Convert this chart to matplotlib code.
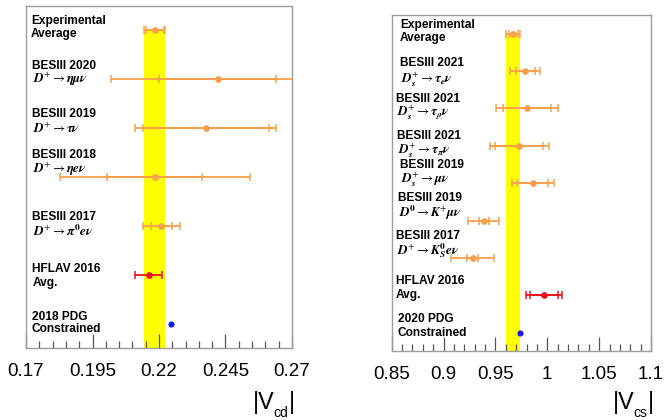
import matplotlib
matplotlib.use("Agg")
import matplotlib.pyplot as plt
import matplotlib.transforms as mtransforms
from matplotlib.ticker import MultipleLocator, FixedLocator, FixedFormatter

# ---------------- data: |Vcd| (left panel), rows top -> bottom ----------------
cd_title = ["Experimental", "BESIII 2020", "BESIII 2019", "BESIII 2018",
            "BESIII 2017", "HFLAV 2016", "2018 PDG"]
cd_sub = ["Average",
          r"$\mathbfit{D}^{+}\rightarrow\mathbfit{\eta\mu\nu}$",
          r"$\mathbfit{D}^{+}\rightarrow\mathbfit{\tau\nu}$",
          r"$\mathbfit{D}^{+}\rightarrow\mathbfit{\eta e\nu}$",
          r"$\mathbfit{D}^{+}\rightarrow\mathbfit{\pi}^{\mathbf{0}}\mathbfit{e\nu}$",
          "Avg.", "Constrained"]
cd_val = [0.2184, 0.2421, 0.2376, 0.2184, 0.2209, 0.2161, 0.2244]
cd_stat = [0.0033, 0.0220, 0.0238, 0.0178, 0.0040, 0.0051, 0.0004]
cd_tot = [0.0040, 0.0400, 0.0265, 0.0357, 0.0069, None, None]
cd_kind = ["exp", "exp", "exp", "exp", "exp", "hflav", "pdg"]
cd_ticks = [0.17, 0.195, 0.22, 0.245, 0.27]
cd_ticklabels = ["0.17", "0.195", "0.22", "0.245", "0.27"]

# ---------------- data: |Vcs| (right panel), rows top -> bottom ----------------
cs_title = ["Experimental", "BESIII 2021", "BESIII 2021", "BESIII 2021",
            "BESIII 2019", "BESIII 2019", "BESIII 2017", "HFLAV 2016", "2020 PDG"]
cs_sub = ["Average",
          r"$\mathbfit{D}_{\mathbfit{s}}^{+}\rightarrow\mathbfit{\tau}_{\mathbfit{e}}\mathbfit{\nu}$",
          r"$\mathbfit{D}_{\mathbfit{s}}^{+}\rightarrow\mathbfit{\tau}_{\mathbfit{\rho}}\mathbfit{\nu}$",
          r"$\mathbfit{D}_{\mathbfit{s}}^{+}\rightarrow\mathbfit{\tau}_{\mathbfit{\pi}}\mathbfit{\nu}$",
          r"$\mathbfit{D}_{\mathbfit{s}}^{+}\rightarrow\mathbfit{\mu\nu}$",
          r"$\mathbfit{D}^{\mathbf{0}}\rightarrow\mathbfit{K}^{+}\mathbfit{\mu\nu}$",
          r"$\mathbfit{D}^{+}\rightarrow\mathbfit{K}_{\mathbfit{S}}^{\mathbf{0}}\mathbfit{e\nu}$",
          "Avg.", "Constrained"]
cs_val = [0.9673, 0.9786, 0.9805, 0.9730, 0.9860, 0.9387, 0.9281, 0.9969, 0.9737]
cs_stat = [0.0045, 0.0092, 0.0233, 0.0233, 0.0148, 0.0048, 0.0051, 0.0132, 0.0003]
cs_tot = [0.0067, 0.0148, 0.0299, 0.0284, 0.0200, 0.0149, 0.0207, 0.0172, None]
cs_kind = ["exp", "exp", "exp", "exp", "exp", "exp", "exp", "hflav", "pdg"]
cs_ticks = [0.85, 0.9, 0.95, 1.0, 1.05, 1.1]
cs_ticklabels = ["0.85", "0.9", "0.95", "1", "1.05", "1.1"]

# ---------------- layout / style ----------------
ORANGE = "#f6a04e"
RED = "#e8141c"
BLUE = "#1418f0"
YELLOW = "#ffff00"
FRAME = "#9c9c9c"
SANS = "Liberation Sans"

# label offsets (data units, relative to the row) for title/sub lines
cd_title_dy = [0.20, 0.27, 0.30, 0.46, 0.20, 0.14, 0.16]
cd_sub_dy = [-0.08, 0.0, 0.0, 0.17, -0.10, -0.15, -0.09]
cd_x = [0.018, 0.024, 0.022, 0.024, 0.022, 0.024, 0.021]
cs_title_dy = [0.23, 0.21, 0.24, 0.27, 0.48, 0.60, 0.58, 0.38, 0.37]
cs_sub_dy = [-0.12, -0.20, -0.13, -0.11, 0.10, 0.20, 0.19, 0.0, 0.0]
cs_x = [0.032, 0.032, 0.017, 0.021, 0.032, 0.025, 0.017, 0.017, 0.023]

fig = plt.figure(figsize=(6.64, 4.2), dpi=100)
ax1 = fig.add_axes([26 / 664, 1 - 348 / 420, 266 / 664, 342 / 420])
ax2 = fig.add_axes([391.7 / 664, 1 - 350.7 / 420, 259.3 / 664, 335.7 / 420])


def draw_panel(ax, title, sub, val, stat, tot, kind, xlim, ticks, ticklabels,
               minor, title_dy, sub_dy, xs):
    n = len(val)
    ys = [n - 1 - i for i in range(n)]
    ax.set_xlim(*xlim)
    ax.set_ylim(-0.48, n - 0.5)
    # yellow band from experimental average down to the axis
    ax.fill_betweenx([-0.48, ys[0]], val[0] - tot[0], val[0] + tot[0],
                     color=YELLOW, lw=0, zorder=1)
    for i in range(n):
        y = ys[i]
        if kind[i] == "exp":
            col = ORANGE
        elif kind[i] == "hflav":
            col = RED
        else:
            col = BLUE
        if kind[i] == "pdg":
            ax.errorbar([val[i]], [y], xerr=[stat[i]], fmt="o", ms=3.4,
                        color=col, ecolor=col, elinewidth=1.2, zorder=4)
            continue
        if tot[i] is not None:
            ax.errorbar([val[i]], [y], xerr=[tot[i]], fmt="none", ecolor=col,
                        elinewidth=1.3, capsize=3.2, capthick=1.1, zorder=3)
        ax.errorbar([val[i]], [y], xerr=[stat[i]], fmt="o", color=col, ms=3.8,
                    ecolor=col, elinewidth=1.3, capsize=3.2, capthick=1.1,
                    zorder=3)

    trans = mtransforms.blended_transform_factory(ax.transAxes, ax.transData)
    for i in range(n):
        y = ys[i]
        ax.text(xs[i], y + title_dy[i], title[i], transform=trans,
                fontsize=8.6, fontweight="bold", family=SANS, va="center",
                ha="left", zorder=5)
        is_math = sub[i].startswith("$")
        ax.text(xs[i] + (0.004 if is_math else 0.0), y + sub_dy[i], sub[i],
                transform=trans, fontsize=9.5 if is_math else 8.6,
                fontweight="bold", family=SANS, va="center", ha="left",
                math_fontfamily="stix", zorder=5)
    ax.xaxis.set_major_locator(FixedLocator(ticks))
    ax.xaxis.set_major_formatter(FixedFormatter(ticklabels))
    ax.xaxis.set_minor_locator(MultipleLocator(minor))
    ax.set_yticks([])
    ax.tick_params(axis="x", which="major", direction="in", length=10,
                   width=0.9, color="#555555", labelsize=13.5, pad=11)
    ax.tick_params(axis="x", which="minor", direction="in", length=5,
                   width=0.9, color="#555555")
    for lab in ax.get_xticklabels():
        lab.set_family(SANS)
    for sp in ax.spines.values():
        sp.set_color(FRAME)
        sp.set_linewidth(1.0)


draw_panel(ax1, cd_title, cd_sub, cd_val, cd_stat, cd_tot, cd_kind,
           (0.17, 0.27), cd_ticks, cd_ticklabels, 0.005,
           cd_title_dy, cd_sub_dy, cd_x)
draw_panel(ax2, cs_title, cs_sub, cs_val, cs_stat, cs_tot, cs_kind,
           (0.85, 1.1), cs_ticks, cs_ticklabels, 0.01,
           cs_title_dy, cs_sub_dy, cs_x)


def axis_label(x_bar_left, sub, x_sub_left, x_end_left):
    # pixel coordinates -> figure fraction
    fig.text(x_bar_left / 664, 1 - 409 / 420, "|V", family=SANS, fontsize=16.8,
             ha="left", va="baseline")
    fig.text(x_sub_left / 664, 1 - 417 / 420, sub, family=SANS, fontsize=10,
             ha="left", va="baseline")
    fig.text(x_end_left / 664, 1 - 409 / 420, "|", family=SANS, fontsize=16.8,
             ha="left", va="baseline")


axis_label(252.5, "cd", 273, 289)
axis_label(612.5, "cs", 633.5, 648)

fig.savefig("out.png", dpi=100)
